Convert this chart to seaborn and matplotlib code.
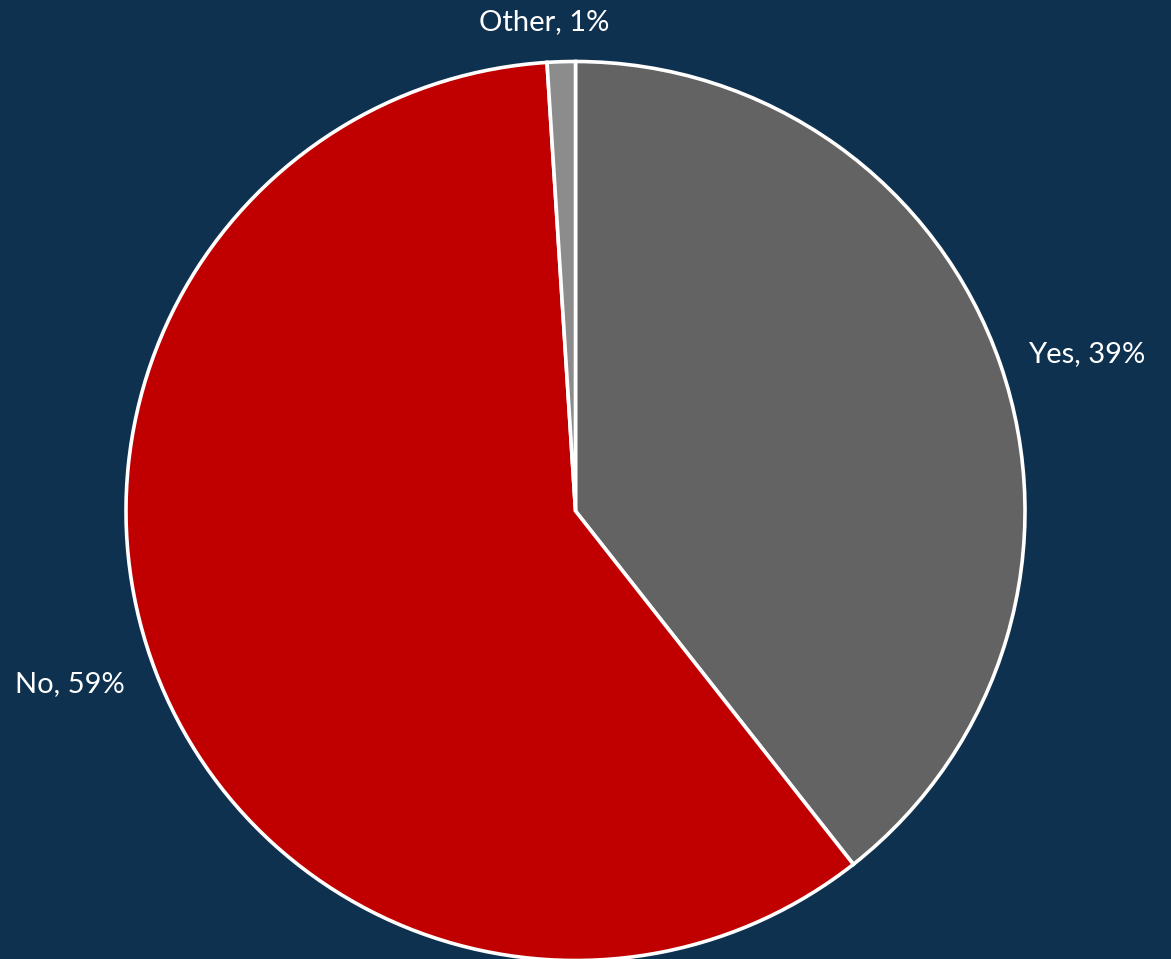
import numpy as np
import matplotlib
matplotlib.use("Agg")
import matplotlib.pyplot as plt
import seaborn as sns

# Survey answer shares (percent)
categories = ["Yes", "No", "Other"]
shares = [39, 59, 1]
slice_colors = ["#636363", "#C00000", "#8C8C8C"]

sns.set_theme(style="white")
plt.rcParams["font.family"] = ["Lato", "DejaVu Sans"]

BG = "#0E3150"
W, H = 1171, 959
fig = plt.figure(figsize=(W / 100, H / 100), dpi=100, facecolor=BG)
ax = fig.add_axes([0, 0, 1, 1])
ax.set_facecolor(BG)

cx, cy, R = 575.5, H - 511, 449.5
wedges, _ = ax.pie(
    shares,
    colors=slice_colors,
    startangle=90,
    counterclock=False,
    center=(cx, cy),
    radius=R,
    wedgeprops=dict(edgecolor="white", linewidth=2.6),
    frame=True,
)

# Data labels outside each slice (radial distance, angular nudge in degrees)
label_dist = [1.19, 1.19, 1.09]
label_nudge = [-2.0, -2.0, 1.8]
for w, cat, val, d, nd in zip(wedges, categories, shares, label_dist, label_nudge):
    mid = np.deg2rad((w.theta1 + w.theta2) / 2 + nd)
    ax.text(cx + R * d * np.cos(mid), cy + R * d * np.sin(mid),
            f"{cat}, {val}%", ha="center", va="center",
            color="white", fontsize=21)

ax.set_xlim(0, W)
ax.set_ylim(0, H)
ax.set_aspect("equal")
ax.axis("off")

fig.savefig("out.png", dpi=100, facecolor=BG)
